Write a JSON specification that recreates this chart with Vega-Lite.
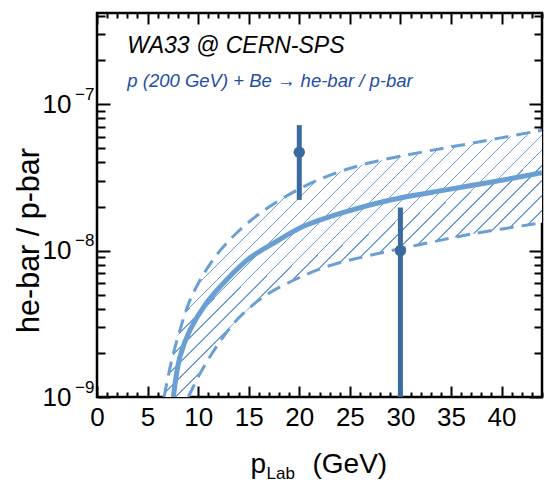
{
  "$schema": "https://vega.github.io/schema/vega-lite/v6.json",
  "width": 445,
  "height": 384,
  "autosize": "none",
  "padding": {"left": 97, "top": 13, "right": 3, "bottom": 85},
  "config": {
    "view": {"stroke": "black", "strokeWidth": 2.5},
    "font": "Liberation Sans",
    "axis": {"domain": false, "grid": false, "tickColor": "black", "tickWidth": 2, "labelColor": "black", "titleColor": "black", "labelFont": "Liberation Sans", "titleFont": "Liberation Sans", "titleFontWeight": "normal", "labelFlush": false, "labelOverlap": false, "zindex": 1}
  },
  "datasets": {
    "band": [
      {"p": 6.63, "lo": 1e-9, "hi": 1e-9},
      {"p": 7.39, "lo": 1e-9, "hi": 1.79e-9},
      {"p": 8.2, "lo": 1e-9, "hi": 2.86e-9},
      {"p": 9.03, "lo": 1e-9, "hi": 4.3e-9},
      {"p": 10.2, "lo": 1.45e-9, "hi": 6.3e-9},
      {"p": 11.8, "lo": 2.2e-9, "hi": 9.3e-9},
      {"p": 13.8, "lo": 3.34e-9, "hi": 1.32e-8},
      {"p": 16.4, "lo": 4.8e-9, "hi": 1.86e-8},
      {"p": 19.7, "lo": 6.4e-9, "hi": 2.57e-8},
      {"p": 23, "lo": 7.9e-9, "hi": 3.27e-8},
      {"p": 26.9, "lo": 9.25e-9, "hi": 3.97e-8},
      {"p": 32.2, "lo": 1.11e-8, "hi": 4.72e-8},
      {"p": 37.1, "lo": 1.3e-8, "hi": 5.42e-8},
      {"p": 44, "lo": 1.55e-8, "hi": 6.65e-8}
    ],
    "curve": [
      {"p": 7.55, "r": 1e-9},
      {"p": 8.2, "r": 1.88e-9},
      {"p": 9.19, "r": 2.86e-9},
      {"p": 10.84, "r": 4.4e-9},
      {"p": 12.8, "r": 6.3e-9},
      {"p": 15.1, "r": 8.9e-9},
      {"p": 17.7, "r": 1.15e-8},
      {"p": 20.36, "r": 1.46e-8},
      {"p": 24.3, "r": 1.82e-8},
      {"p": 28.9, "r": 2.21e-8},
      {"p": 34.5, "r": 2.6e-8},
      {"p": 38.75, "r": 2.92e-8},
      {"p": 44, "r": 3.4e-8}
    ],
    "meas": [
      {"p": 20, "r": 4.7e-8, "lo": 2.22e-8, "hi": 7.2e-8},
      {"p": 30, "r": 1.0e-8, "lo": 1e-9, "hi": 1.97e-8}
    ],
    "notes": [
      {"p": 3.0, "r": 2.24e-7, "label": "WA33 @ CERN-SPS", "kind": "exp"},
      {"p": 3.0, "r": 1.31e-7, "label": "p (200 GeV) + Be → he-bar / p-bar", "kind": "reac"}
    ]
  },
  "layer": [
    {
      "data": {"name": "band"},
      "mark": {"type": "area", "interpolate": "catmull-rom", "clip": true, "opacity": 1, "fillOpacity": 1,
        "fill": {"gradient": "linear", "x1": 0, "y1": 0, "x2": 1.1386, "y2": 0.804, "stops": [
          {"offset": 0, "color": "#fff"},
          {"offset": 0.0100, "color": "#fff"}, {"offset": 0.0100, "color": "#6d9fd6"}, {"offset": 0.0124, "color": "#6d9fd6"}, {"offset": 0.0124, "color": "#fff"},
          {"offset": 0.0333, "color": "#fff"}, {"offset": 0.0333, "color": "#6d9fd6"}, {"offset": 0.0357, "color": "#6d9fd6"}, {"offset": 0.0357, "color": "#fff"},
          {"offset": 0.0566, "color": "#fff"}, {"offset": 0.0566, "color": "#6d9fd6"}, {"offset": 0.0590, "color": "#6d9fd6"}, {"offset": 0.0590, "color": "#fff"},
          {"offset": 0.0799, "color": "#fff"}, {"offset": 0.0799, "color": "#6d9fd6"}, {"offset": 0.0823, "color": "#6d9fd6"}, {"offset": 0.0823, "color": "#fff"},
          {"offset": 0.1032, "color": "#fff"}, {"offset": 0.1032, "color": "#6d9fd6"}, {"offset": 0.1056, "color": "#6d9fd6"}, {"offset": 0.1056, "color": "#fff"},
          {"offset": 0.1265, "color": "#fff"}, {"offset": 0.1265, "color": "#6d9fd6"}, {"offset": 0.1289, "color": "#6d9fd6"}, {"offset": 0.1289, "color": "#fff"},
          {"offset": 0.1498, "color": "#fff"}, {"offset": 0.1498, "color": "#6d9fd6"}, {"offset": 0.1522, "color": "#6d9fd6"}, {"offset": 0.1522, "color": "#fff"},
          {"offset": 0.1731, "color": "#fff"}, {"offset": 0.1731, "color": "#6d9fd6"}, {"offset": 0.1755, "color": "#6d9fd6"}, {"offset": 0.1755, "color": "#fff"},
          {"offset": 0.1964, "color": "#fff"}, {"offset": 0.1964, "color": "#6d9fd6"}, {"offset": 0.1988, "color": "#6d9fd6"}, {"offset": 0.1988, "color": "#fff"},
          {"offset": 0.2197, "color": "#fff"}, {"offset": 0.2197, "color": "#6d9fd6"}, {"offset": 0.2221, "color": "#6d9fd6"}, {"offset": 0.2221, "color": "#fff"},
          {"offset": 0.2430, "color": "#fff"}, {"offset": 0.2430, "color": "#6d9fd6"}, {"offset": 0.2454, "color": "#6d9fd6"}, {"offset": 0.2454, "color": "#fff"},
          {"offset": 0.2663, "color": "#fff"}, {"offset": 0.2663, "color": "#6d9fd6"}, {"offset": 0.2687, "color": "#6d9fd6"}, {"offset": 0.2687, "color": "#fff"},
          {"offset": 0.2896, "color": "#fff"}, {"offset": 0.2896, "color": "#6d9fd6"}, {"offset": 0.2920, "color": "#6d9fd6"}, {"offset": 0.2920, "color": "#fff"},
          {"offset": 0.3129, "color": "#fff"}, {"offset": 0.3129, "color": "#6d9fd6"}, {"offset": 0.3153, "color": "#6d9fd6"}, {"offset": 0.3153, "color": "#fff"},
          {"offset": 0.3362, "color": "#fff"}, {"offset": 0.3362, "color": "#6d9fd6"}, {"offset": 0.3386, "color": "#6d9fd6"}, {"offset": 0.3386, "color": "#fff"},
          {"offset": 0.3595, "color": "#fff"}, {"offset": 0.3595, "color": "#6d9fd6"}, {"offset": 0.3619, "color": "#6d9fd6"}, {"offset": 0.3619, "color": "#fff"},
          {"offset": 0.3828, "color": "#fff"}, {"offset": 0.3828, "color": "#6d9fd6"}, {"offset": 0.3852, "color": "#6d9fd6"}, {"offset": 0.3852, "color": "#fff"},
          {"offset": 0.4061, "color": "#fff"}, {"offset": 0.4061, "color": "#6d9fd6"}, {"offset": 0.4085, "color": "#6d9fd6"}, {"offset": 0.4085, "color": "#fff"},
          {"offset": 0.4294, "color": "#fff"}, {"offset": 0.4294, "color": "#6d9fd6"}, {"offset": 0.4318, "color": "#6d9fd6"}, {"offset": 0.4318, "color": "#fff"},
          {"offset": 0.4527, "color": "#fff"}, {"offset": 0.4527, "color": "#6d9fd6"}, {"offset": 0.4551, "color": "#6d9fd6"}, {"offset": 0.4551, "color": "#fff"},
          {"offset": 0.4760, "color": "#fff"}, {"offset": 0.4760, "color": "#6d9fd6"}, {"offset": 0.4784, "color": "#6d9fd6"}, {"offset": 0.4784, "color": "#fff"},
          {"offset": 0.4993, "color": "#fff"}, {"offset": 0.4993, "color": "#6d9fd6"}, {"offset": 0.5017, "color": "#6d9fd6"}, {"offset": 0.5017, "color": "#fff"},
          {"offset": 0.5226, "color": "#fff"}, {"offset": 0.5226, "color": "#6d9fd6"}, {"offset": 0.5250, "color": "#6d9fd6"}, {"offset": 0.5250, "color": "#fff"},
          {"offset": 0.5459, "color": "#fff"}, {"offset": 0.5459, "color": "#6d9fd6"}, {"offset": 0.5483, "color": "#6d9fd6"}, {"offset": 0.5483, "color": "#fff"},
          {"offset": 0.5692, "color": "#fff"}, {"offset": 0.5692, "color": "#6d9fd6"}, {"offset": 0.5716, "color": "#6d9fd6"}, {"offset": 0.5716, "color": "#fff"},
          {"offset": 0.5925, "color": "#fff"}, {"offset": 0.5925, "color": "#6d9fd6"}, {"offset": 0.5949, "color": "#6d9fd6"}, {"offset": 0.5949, "color": "#fff"},
          {"offset": 0.6158, "color": "#fff"}, {"offset": 0.6158, "color": "#6d9fd6"}, {"offset": 0.6182, "color": "#6d9fd6"}, {"offset": 0.6182, "color": "#fff"},
          {"offset": 0.6391, "color": "#fff"}, {"offset": 0.6391, "color": "#6d9fd6"}, {"offset": 0.6415, "color": "#6d9fd6"}, {"offset": 0.6415, "color": "#fff"},
          {"offset": 0.6624, "color": "#fff"}, {"offset": 0.6624, "color": "#6d9fd6"}, {"offset": 0.6648, "color": "#6d9fd6"}, {"offset": 0.6648, "color": "#fff"},
          {"offset": 0.6857, "color": "#fff"}, {"offset": 0.6857, "color": "#6d9fd6"}, {"offset": 0.6881, "color": "#6d9fd6"}, {"offset": 0.6881, "color": "#fff"},
          {"offset": 0.7090, "color": "#fff"}, {"offset": 0.7090, "color": "#6d9fd6"}, {"offset": 0.7114, "color": "#6d9fd6"}, {"offset": 0.7114, "color": "#fff"},
          {"offset": 0.7323, "color": "#fff"}, {"offset": 0.7323, "color": "#6d9fd6"}, {"offset": 0.7347, "color": "#6d9fd6"}, {"offset": 0.7347, "color": "#fff"},
          {"offset": 0.7556, "color": "#fff"}, {"offset": 0.7556, "color": "#6d9fd6"}, {"offset": 0.7580, "color": "#6d9fd6"}, {"offset": 0.7580, "color": "#fff"},
          {"offset": 0.7789, "color": "#fff"}, {"offset": 0.7789, "color": "#6d9fd6"}, {"offset": 0.7813, "color": "#6d9fd6"}, {"offset": 0.7813, "color": "#fff"},
          {"offset": 0.8022, "color": "#fff"}, {"offset": 0.8022, "color": "#6d9fd6"}, {"offset": 0.8046, "color": "#6d9fd6"}, {"offset": 0.8046, "color": "#fff"},
          {"offset": 0.8255, "color": "#fff"}, {"offset": 0.8255, "color": "#6d9fd6"}, {"offset": 0.8279, "color": "#6d9fd6"}, {"offset": 0.8279, "color": "#fff"},
          {"offset": 0.8488, "color": "#fff"}, {"offset": 0.8488, "color": "#6d9fd6"}, {"offset": 0.8512, "color": "#6d9fd6"}, {"offset": 0.8512, "color": "#fff"},
          {"offset": 0.8721, "color": "#fff"}, {"offset": 0.8721, "color": "#6d9fd6"}, {"offset": 0.8745, "color": "#6d9fd6"}, {"offset": 0.8745, "color": "#fff"},
          {"offset": 0.8954, "color": "#fff"}, {"offset": 0.8954, "color": "#6d9fd6"}, {"offset": 0.8978, "color": "#6d9fd6"}, {"offset": 0.8978, "color": "#fff"},
          {"offset": 0.9187, "color": "#fff"}, {"offset": 0.9187, "color": "#6d9fd6"}, {"offset": 0.9211, "color": "#6d9fd6"}, {"offset": 0.9211, "color": "#fff"},
          {"offset": 0.9420, "color": "#fff"}, {"offset": 0.9420, "color": "#6d9fd6"}, {"offset": 0.9444, "color": "#6d9fd6"}, {"offset": 0.9444, "color": "#fff"},
          {"offset": 0.9653, "color": "#fff"}, {"offset": 0.9653, "color": "#6d9fd6"}, {"offset": 0.9677, "color": "#6d9fd6"}, {"offset": 0.9677, "color": "#fff"},
          {"offset": 0.9886, "color": "#fff"}, {"offset": 0.9886, "color": "#6d9fd6"}, {"offset": 0.9910, "color": "#6d9fd6"}, {"offset": 0.9910, "color": "#fff"},
          {"offset": 1, "color": "#fff"}
        ]}},
      "encoding": {
        "x": {"field": "p", "type": "quantitative", "scale": {"domain": [0, 44], "nice": false, "zero": false},
          "axis": {"orient": "bottom", "values": [0, 5, 10, 15, 20, 25, 30, 35, 40], "ticks": false, "labelFontSize": 26, "labelPadding": 7,
            "title": "p", "titleFontSize": 28, "titleX": 153, "titleY": 75, "titleAlign": "left", "titleBaseline": "alphabetic", "titleAngle": 0}},
        "y": {"field": "hi", "type": "quantitative", "scale": {"type": "log", "domain": [1e-9, 4.2e-7], "nice": false, "zero": false},
          "axis": {"orient": "left", "values": [1e-9, 1e-8, 1e-7], "ticks": false, "labelFontSize": 26, "labelPadding": 26, "labelExpr": "'10'", "labelAlign": "right", "labelBaseline": "middle",
            "title": "he-bar / p-bar", "titleFontSize": 30.5, "titleX": -59, "titleY": 227, "titleAngle": -90, "titleAlign": "center", "titleBaseline": "alphabetic"}},
        "y2": {"field": "lo"}
      }
    },
    {
      "data": {"name": "band"},
      "mark": {"type": "line", "interpolate": "catmull-rom", "clip": true, "color": "#6a9fd4", "strokeWidth": 3, "strokeDash": [14, 8]},
      "encoding": {
        "x": {"field": "p", "type": "quantitative", "scale": {"domain": [0, 44], "nice": false, "zero": false},
          "axis": {"orient": "bottom", "values": [0, 5, 10, 15, 20, 25, 30, 35, 40], "labels": false, "tickSize": -11,
            "title": "Lab", "titleFontSize": 17, "titleX": 169, "titleY": 81, "titleAlign": "left", "titleBaseline": "alphabetic", "titleAngle": 0}},
        "y": {"field": "hi", "type": "quantitative", "scale": {"type": "log", "domain": [1e-9, 4.2e-7], "nice": false, "zero": false},
          "axis": {"orient": "left", "values": [1e-9, 1e-8, 1e-7], "ticks": false, "labelFontSize": 17, "labelPadding": 3, "labelOffset": -10, "labelAlign": "right", "labelBaseline": "middle",
            "labelExpr": "datum.value < 5e-9 ? '−9' : (datum.value < 5e-8 ? '−8' : '−7')", "title": null}}
      }
    },
    {
      "data": {"name": "band"},
      "transform": [{"filter": "datum.p >= 9"}],
      "mark": {"type": "line", "interpolate": "catmull-rom", "clip": true, "color": "#6a9fd4", "strokeWidth": 3, "strokeDash": [14, 8]},
      "encoding": {
        "x": {"field": "p", "type": "quantitative", "scale": {"domain": [0, 44], "nice": false, "zero": false},
          "axis": {"orient": "bottom", "values": [1, 2, 3, 4, 6, 7, 8, 9, 11, 12, 13, 14, 16, 17, 18, 19, 21, 22, 23, 24, 26, 27, 28, 29, 31, 32, 33, 34, 36, 37, 38, 39, 41, 42, 43, 44], "labels": false, "tickSize": -5,
            "title": "(GeV)", "titleFontSize": 28, "titleX": 215, "titleY": 75, "titleAlign": "left", "titleBaseline": "alphabetic", "titleAngle": 0}},
        "y": {"field": "lo", "type": "quantitative", "scale": {"type": "log", "domain": [1e-9, 4.2e-7], "nice": false, "zero": false},
          "axis": {"orient": "left", "values": [1e-9, 1e-8, 1e-7], "labels": false, "tickSize": -13, "title": null}}
      }
    },
    {
      "data": {"name": "curve"},
      "mark": {"type": "line", "interpolate": "catmull-rom", "clip": true, "color": "#6a9fd4", "strokeWidth": 5},
      "encoding": {
        "x": {"field": "p", "type": "quantitative", "scale": {"domain": [0, 44], "nice": false, "zero": false},
          "axis": {"orient": "top", "values": [0, 5, 10, 15, 20, 25, 30, 35, 40], "labels": false, "tickSize": -11, "title": null}},
        "y": {"field": "r", "type": "quantitative", "scale": {"type": "log", "domain": [1e-9, 4.2e-7], "nice": false, "zero": false},
          "axis": {"orient": "left", "values": [2e-9, 3e-9, 4e-9, 5e-9, 6e-9, 7e-9, 8e-9, 9e-9, 2e-8, 3e-8, 4e-8, 5e-8, 6e-8, 7e-8, 8e-8, 9e-8, 2e-7, 3e-7, 4e-7], "labels": false, "tickSize": -8, "title": null}}
      }
    },
    {
      "data": {"name": "meas"},
      "mark": {"type": "rule", "clip": true, "color": "#3a6aa0", "strokeWidth": 5},
      "encoding": {
        "x": {"field": "p", "type": "quantitative", "scale": {"domain": [0, 44], "nice": false, "zero": false},
          "axis": {"orient": "top", "values": [1, 2, 3, 4, 6, 7, 8, 9, 11, 12, 13, 14, 16, 17, 18, 19, 21, 22, 23, 24, 26, 27, 28, 29, 31, 32, 33, 34, 36, 37, 38, 39, 41, 42, 43, 44], "labels": false, "tickSize": -5, "title": null}},
        "y": {"field": "lo", "type": "quantitative", "scale": {"type": "log", "domain": [1e-9, 4.2e-7], "nice": false, "zero": false},
          "axis": {"orient": "right", "values": [1e-9, 1e-8, 1e-7], "labels": false, "tickSize": -13, "title": null}},
        "y2": {"field": "hi"}
      }
    },
    {
      "data": {"name": "meas"},
      "mark": {"type": "point", "shape": "circle", "filled": true, "opacity": 1, "color": "#3a6aa0", "size": 130},
      "encoding": {
        "x": {"field": "p", "type": "quantitative", "scale": {"domain": [0, 44], "nice": false, "zero": false}, "axis": null},
        "y": {"field": "r", "type": "quantitative", "scale": {"type": "log", "domain": [1e-9, 4.2e-7], "nice": false, "zero": false},
          "axis": {"orient": "right", "values": [2e-9, 3e-9, 4e-9, 5e-9, 6e-9, 7e-9, 8e-9, 9e-9, 2e-8, 3e-8, 4e-8, 5e-8, 6e-8, 7e-8, 8e-8, 9e-8, 2e-7, 3e-7, 4e-7], "labels": false, "tickSize": -8, "title": null}}
      }
    },
    {
      "data": {"name": "notes"},
      "transform": [{"filter": "datum.kind == 'exp'"}],
      "mark": {"type": "text", "align": "left", "baseline": "alphabetic", "fontStyle": "italic", "fontSize": 23, "color": "black", "font": "Liberation Sans"},
      "encoding": {
        "x": {"field": "p", "type": "quantitative", "scale": {"domain": [0, 44], "nice": false, "zero": false}, "axis": null},
        "y": {"field": "r", "type": "quantitative", "scale": {"type": "log", "domain": [1e-9, 4.2e-7], "nice": false, "zero": false}, "axis": null},
        "text": {"field": "label"}
      }
    },
    {
      "data": {"name": "notes"},
      "transform": [{"filter": "datum.kind == 'reac'"}],
      "mark": {"type": "text", "align": "left", "baseline": "alphabetic", "fontStyle": "italic", "fontSize": 18.5, "color": "#1f4ea6", "font": "Liberation Sans"},
      "encoding": {
        "x": {"field": "p", "type": "quantitative", "scale": {"domain": [0, 44], "nice": false, "zero": false}, "axis": null},
        "y": {"field": "r", "type": "quantitative", "scale": {"type": "log", "domain": [1e-9, 4.2e-7], "nice": false, "zero": false}, "axis": null},
        "text": {"field": "label"}
      }
    }
  ],
  "resolve": {"axis": {"x": "independent", "y": "independent"}}
}
